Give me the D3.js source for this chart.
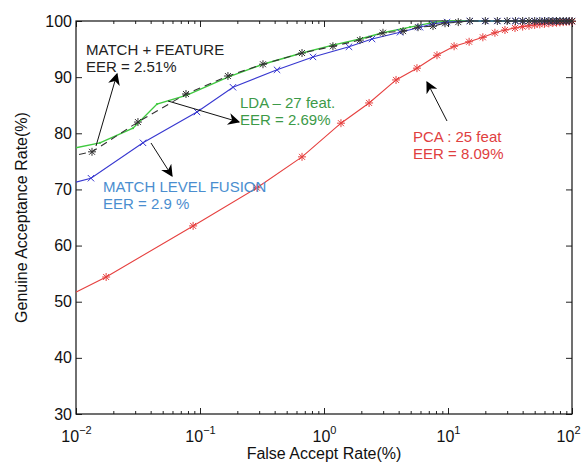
<!DOCTYPE html>
<html>
<head>
<meta charset="utf-8">
<script src="https://cdn.jsdelivr.net/npm/d3@7"></script>
<style>
  html, body { margin: 0; padding: 0; background: #fff; }
  svg { display: block; font-family: "Liberation Sans", Arial, Helvetica, sans-serif; }
</style>
</head>
<body>
<svg id="chart" width="581" height="465"></svg>
<script>
// ---------- data (FAR in %, GAR in %) ----------
const farPCA = [0.0085, 0.0175, 0.088, 0.288, 0.665, 1.37, 2.31, 3.81, 5.62, 8.15, 11.2, 14.8, 19.1, 23.9, 28.8, 34.7, 40, 45, 50, 55, 60, 65, 70, 75, 80, 85, 90, 95, 100];
const garPCA = [50.9, 54.4, 63.5, 70.3, 75.8, 81.8, 85.4, 89.5, 91.6, 93.9, 95.5, 96.3, 97.1, 97.9, 98.4, 98.75, 99.0, 99.15, 99.3, 99.4, 99.5, 99.58, 99.65, 99.7, 99.75, 99.8, 99.85, 99.9, 99.9];

const farMLF = [0.0085, 0.0132, 0.0347, 0.0946, 0.1845, 0.418, 0.815, 1.59, 2.44, 4.10, 5.94, 7.57, 9.82, 15, 20, 25, 30, 35, 40, 45, 50, 55, 60, 65, 70, 75, 80, 85, 90, 95, 100];
const garMLF = [70.9, 72.0, 78.3, 83.8, 88.2, 91.3, 93.6, 95.4, 96.8, 98.0, 98.9, 99.5, 99.8, 100, 100, 100, 100, 100, 100, 100, 100, 100, 100, 100, 100, 100, 100, 100, 100, 100, 100];

const farMF = [0.0085, 0.01346, 0.0316, 0.0771, 0.168, 0.322, 0.665, 1.18, 1.95, 2.99, 4.34, 5.73, 7.57, 9.46, 12.1, 15, 20, 25, 30, 35, 40, 45, 50, 55, 60, 65, 70, 75, 80, 85, 90, 95, 100];
const garMF = [75.8, 76.7, 82.0, 87.0, 90.2, 92.3, 94.3, 95.5, 96.6, 97.9, 98.2, 98.9, 99.1, 99.6, 99.8, 100, 100, 100, 100, 100, 100, 100, 100, 100, 100, 100, 100, 100, 100, 100, 100, 100, 100];

const farLDA = [0.0085, 0.0156, 0.0288, 0.045, 0.0785, 0.168, 0.322, 0.665, 1.18, 1.95, 2.99, 4.94, 7.85, 10.4, 20, 50, 100];
const garLDA = [77.1, 78.3, 80.9, 85.2, 86.8, 90.0, 92.3, 94.3, 95.7, 96.8, 97.9, 98.9, 99.8, 100, 100, 100, 100];

const yTicks = [30, 40, 50, 60, 70, 80, 90, 100];
const xTickExps = [-2, -1, 0, 1, 2];
const xTitle = "False Accept Rate(%)";
const yTitle = "Genuine Acceptance Rate(%)";

// annotations: text lines
const annMF = ["MATCH + FEATURE", "EER = 2.51%"];
const annLDA = ["LDA \u2013 27 feat.", "EER = 2.69%"];
const annMLF = ["MATCH LEVEL FUSION", "EER = 2.9 %"];
const annPCA = ["PCA : 25 feat", "EER = 8.09%"];

// ---------- layout ----------
const svg = d3.select("#chart");
const W = 581, H = 465;
const m = { top: 21, right: 9, bottom: 51, left: 76 };
const x = d3.scaleLog().domain([0.01, 100]).range([m.left, W - m.right]);
const y = d3.scaleLinear().domain([30, 100]).range([H - m.bottom, m.top]);
const x0 = m.left, x1 = W - m.right, y0 = H - m.bottom, y1 = m.top;

svg.append("defs").append("clipPath").attr("id", "clip")
  .append("rect").attr("x", x0).attr("y", y1 - 4).attr("width", x1 - x0 + 4).attr("height", y0 - y1 + 4);

const defs = svg.select("defs");
defs.append("marker").attr("id", "ah").attr("viewBox", "0 0 10 10")
  .attr("refX", 9).attr("refY", 5).attr("markerWidth", 15).attr("markerHeight", 12)
  .attr("markerUnits", "userSpaceOnUse").attr("orient", "auto")
  .append("path").attr("d", "M0,0 L10,5 L0,10 L3,5 Z").attr("fill", "#000");

// ---------- axes ----------
const majors = xTickExps.map(e => Math.pow(10, e));
const minors = [];
for (let e = -2; e < 2; e++) for (let k = 2; k <= 9; k++) minors.push(k * Math.pow(10, e));

const gx = svg.append("g").attr("transform", `translate(0,${y0})`)
  .call(d3.axisBottom(x).tickValues(majors).tickSizeInner(-6).tickSizeOuter(0).tickFormat(() => ""));
svg.append("g").attr("transform", `translate(0,${y0})`)
  .call(d3.axisBottom(x).tickValues(minors).tickSizeInner(-3).tickSizeOuter(0).tickFormat(() => ""));
svg.append("g").attr("transform", `translate(0,${y1})`)
  .call(d3.axisTop(x).tickValues(majors).tickSizeInner(-6).tickSizeOuter(0).tickFormat(() => ""));
svg.append("g").attr("transform", `translate(0,${y1})`)
  .call(d3.axisTop(x).tickValues(minors).tickSizeInner(-3).tickSizeOuter(0).tickFormat(() => ""));
const gy = svg.append("g").attr("transform", `translate(${x0},0)`)
  .call(d3.axisLeft(y).tickValues(yTicks).tickSizeInner(-6).tickSizeOuter(0).tickPadding(4));
svg.append("g").attr("transform", `translate(${x1},0)`)
  .call(d3.axisRight(y).tickValues(yTicks).tickSizeInner(-6).tickSizeOuter(0).tickFormat(() => ""));

svg.selectAll(".domain").remove();
svg.selectAll(".tick line").attr("stroke", "#222").attr("stroke-width", 1);
gy.selectAll(".tick text").attr("font-size", 16).attr("fill", "#111")
  .attr("font-family", "Liberation Sans, Arial, sans-serif");

// x tick labels with superscripts (last one kept inside the window)
gx.selectAll(".tick").each(function(d) {
  const e = Math.round(Math.log10(d));
  const last = e === 2;
  const t = d3.select(this).append("text").attr("y", 28).attr("fill", "#111")
    .attr("font-size", 16).attr("text-anchor", last ? "end" : "middle")
    .attr("x", last ? (W - 1) - x(d) : 0)
    .attr("font-family", "Liberation Sans, Arial, sans-serif");
  t.append("tspan").text("10");
  t.append("tspan").attr("dy", -8).attr("font-size", 11).text(e < 0 ? "\u2212" + (-e) : String(e));
});

// box
svg.append("rect").attr("x", x0).attr("y", y1).attr("width", x1 - x0).attr("height", y0 - y1)
  .attr("fill", "none").attr("stroke", "#111").attr("stroke-width", 1.2);

// titles
svg.append("text").attr("x", (x0 + x1) / 2).attr("y", 459).attr("text-anchor", "middle")
  .attr("font-size", 16).attr("fill", "#111").text(xTitle);
svg.append("text").attr("transform", `translate(27,${(y0 + y1) / 2}) rotate(-90)`)
  .attr("text-anchor", "middle").attr("font-size", 16).attr("fill", "#111").text(yTitle);

// ---------- series ----------
const plot = svg.append("g").attr("clip-path", "url(#clip)");
function series(fars, gars, color, opts) {
  const pts = fars.map((f, i) => [x(f), y(gars[i])]);
  plot.append("path").attr("d", d3.line()(pts)).attr("fill", "none")
    .attr("stroke", color).attr("stroke-width", opts.width || 1.1)
    .attr("stroke-dasharray", opts.dash || null);
  const g = plot.append("g").attr("stroke", color).attr("fill", color).attr("stroke-width", 1);
  pts.forEach(([px, py]) => {
    if (opts.marker === "star") {
      const s = 4, d = 3;
      g.append("path").attr("d",
        `M${px - s},${py}L${px + s},${py}M${px},${py - s}L${px},${py + s}` +
        `M${px - d},${py - d}L${px + d},${py + d}M${px - d},${py + d}L${px + d},${py - d}`);
    } else if (opts.marker === "x") {
      const d = 3.2;
      g.append("path").attr("d", `M${px - d},${py - d}L${px + d},${py + d}M${px - d},${py + d}L${px + d},${py - d}`);
    } else if (opts.marker === "dot") {
      g.append("circle").attr("cx", px).attr("cy", py).attr("r", 1.1).attr("stroke", "none");
    }
  });
}
series(farPCA, garPCA, "#e6403f", { marker: "star" });
series(farLDA, garLDA, "#3fc93f", { marker: "dot", width: 1.4 });
series(farMLF, garMLF, "#3737d0", { marker: "x" });
series(farMF, garMF, "#333", { marker: "star", dash: "7,5" });

// ---------- annotations ----------
function label(lines, xx, yy, color) {
  lines.forEach((s, i) => svg.append("text").attr("x", xx).attr("y", yy + i * 17)
    .attr("font-size", 15).attr("fill", color).text(s));
}
function arrow(xa, ya, xb, yb) {
  svg.append("line").attr("x1", xa).attr("y1", ya).attr("x2", xb).attr("y2", yb)
    .attr("stroke", "#111").attr("stroke-width", 1).attr("marker-end", "url(#ah)");
}
label(annMF, 86, 55, "#222");
label(annLDA, 240, 108, "#3c9a48");
label(annMLF, 103, 192, "#4a8ecf");
label(annPCA, 413, 142, "#e0403f");
arrow(96, 146, 117, 74);
arrow(168, 101, 239, 122);
arrow(151, 143, 172, 176);
arrow(447, 121, 427, 82);
</script>
</body>
</html>
